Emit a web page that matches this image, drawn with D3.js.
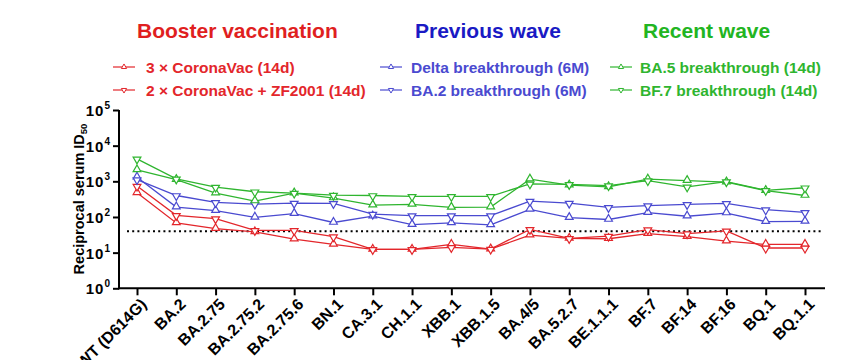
<!DOCTYPE html>
<html><head><meta charset="utf-8">
<script src="https://cdn.jsdelivr.net/npm/d3@7"></script>
<style>
body{margin:0;background:#fff;}
svg{display:block;font-family:"Liberation Sans",Arial,sans-serif;font-weight:bold;}
</style></head>
<body><svg id="c" width="862" height="360"></svg>
<script>
const categories = ["WT (D614G)","BA.2","BA.2.75","BA.2.75.2","BA.2.75.6","BN.1","CA.3.1","CH.1.1","XBB.1","XBB.1.5","BA.4/5","BA.5.2.7","BE.1.1.1","BF.7","BF.14","BF.16","BQ.1","BQ.1.1"];
const coronavac3 = [476,68,47,38,24,17,12.3,12.3,17,12.6,31,25,24.5,34,28,21,17,17];
const coronavacZF = [735,111,90,42,42,28,12.3,12.3,14,12.6,45,25,29,44,34,41,13.5,13.5];
const deltaBT = [1300,190,150,98,124,70,105,61,68,60,164,96,85,132,105,129,74,75];
const ba2BT = [1120,400,256,230,245,240,120,109,109,109,280,245,186,208,225,240,160,135];
const ba5BT = [2090,1120,468,280,468,340,215,225,186,190,1150,780,700,1150,1050,950,550,400];
const bf7BT = [4260,1170,690,510,468,410,400,380,380,380,850,820,760,1050,700,980,560,660];
const yTicks = [1,10,100,1000,10000,100000];
const threshold = 40;
const groupTitles = ["Booster vaccination","Previous wave","Recent wave"];

const RED="#e3262b", BLUE="#4a4ad0", GREEN="#2fb52f";
const series = [
  {name:"3 × CoronaVac (14d)", values:coronavac3, color:RED, up:true, g:0, r:0},
  {name:"2 × CoronaVac + ZF2001 (14d)", values:coronavacZF, color:RED, up:false, g:0, r:1},
  {name:"Delta breakthrough (6M)", values:deltaBT, color:BLUE, up:true, g:1, r:0},
  {name:"BA.2 breakthrough (6M)", values:ba2BT, color:BLUE, up:false, g:1, r:1},
  {name:"BA.5 breakthrough (14d)", values:ba5BT, color:GREEN, up:true, g:2, r:0},
  {name:"BF.7 breakthrough (14d)", values:bf7BT, color:GREEN, up:false, g:2, r:1}
];
const titleColors = ["#e01f1f","#1a1ac4","#22b522"];

const svg = d3.select("#c");
const x = d3.scalePoint().domain(categories).range([137,805]);
const y = d3.scaleLog().domain([1,1e5]).range([288.3,110]);

// axes
const yAxis = svg.append("g").attr("transform","translate(119,0)")
  .call(d3.axisLeft(y).tickValues(yTicks).tickSize(6).tickFormat(""));
yAxis.select(".domain").attr("stroke","#000").attr("stroke-width",2).attr("d","M0,110V289.3");
yAxis.selectAll(".tick line").attr("stroke","#000").attr("stroke-width",2);
yAxis.selectAll(".tick").append("text")
  .attr("x",-9).attr("dy","0.36em").attr("text-anchor","end")
  .attr("fill","#000").attr("font-size",15).attr("font-weight","bold")
  .each(function(d){
    const t=d3.select(this);
    t.append("tspan").attr("letter-spacing",1).text("10");
    t.append("tspan").attr("font-size",10).attr("dy","-0.7em").text(Math.round(Math.log10(d)));
  });

const xAxis = svg.append("g").attr("transform","translate(0,288.3)")
  .call(d3.axisBottom(x).tickSize(7).tickFormat(""));
xAxis.select(".domain").attr("stroke","#000").attr("stroke-width",2).attr("d","M118,0H825");
xAxis.selectAll(".tick line").attr("stroke","#000").attr("stroke-width",2);
xAxis.selectAll(".tick").append("text")
  .attr("transform","translate(6,13) rotate(-45)")
  .attr("text-anchor","end").attr("dy","0.35em")
  .attr("fill","#000").attr("font-size",16).attr("font-weight","bold")
  .text(d=>d);

// y title
svg.append("text").attr("transform","translate(84,199) rotate(-90)")
  .attr("text-anchor","middle").attr("font-size",14.5).attr("fill","#000")
  .call(t=>{t.append("tspan").text("Reciprocal serum ID");t.append("tspan").attr("font-size",9.5).attr("dy","0.3em").text("50");});

// threshold
svg.append("line").attr("x1",127).attr("x2",822).attr("y1",y(threshold)).attr("y2",y(threshold))
  .attr("stroke","#000").attr("stroke-width",2).attr("stroke-dasharray","2,3.2");

const line = d3.line().x((d,i)=>x(categories[i])).y(d=>y(d));
const tri = d3.symbol().type(d3.symbolTriangle);

series.forEach(s=>{
  const g = svg.append("g");
  g.append("path").attr("d",line(s.values)).attr("fill","none").attr("stroke",s.color).attr("stroke-width",1.3);
  g.selectAll("path.m").data(s.values).join("path").attr("class","m")
    .attr("d",tri.size(26)())
    .attr("transform",(d,i)=>`translate(${x(categories[i])},${y(d)+(s.up?-0.5:0.5)}) rotate(${s.up?0:180})`)
    .attr("fill","#fff").attr("stroke",s.color).attr("stroke-width",1.2);
});

// legend
const titleX=[137,415,643], markX=[113,380,610], textX=[146,411,640], rowY=[67,90];
groupTitles.forEach((t,i)=>{
  svg.append("text").attr("x",titleX[i]).attr("y",38).attr("font-size",21).attr("fill",titleColors[i]).text(t);
});
series.forEach(s=>{
  const cy=rowY[s.r];
  svg.append("line").attr("x1",markX[s.g]).attr("x2",markX[s.g]+22).attr("y1",cy).attr("y2",cy)
    .attr("stroke",s.color).attr("stroke-width",1.2);
  svg.append("path").attr("d",tri.size(12)())
    .attr("transform",`translate(${markX[s.g]+11},${cy}) rotate(${s.up?0:180})`)
    .attr("fill","#fff").attr("stroke",s.color).attr("stroke-width",1);
  svg.append("text").attr("x",textX[s.g]).attr("y",cy+5.5).attr("font-size",15.5).attr("fill",s.color).text(s.name);
});
</script></body></html>
